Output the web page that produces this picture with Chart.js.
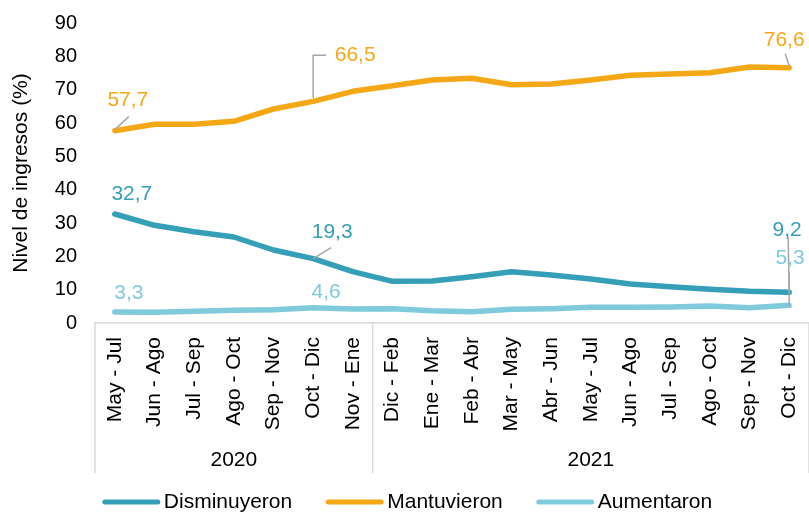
<!DOCTYPE html>
<html lang="es">
<head>
<meta charset="utf-8">
<title>Nivel de ingresos</title>
<script src="https://cdn.jsdelivr.net/npm/chart.js@4.4.1/dist/chart.umd.min.js"></script>
<style>
    html, body { margin: 0; padding: 0; background: #fff; overflow: hidden; }
    #wrap { width: 809px; height: 512px; position: relative; }
</style>
</head>
<body>
<div id="wrap"><canvas id="ingresosChart"></canvas></div>
<script>
// Categories (rolling three-month periods)
const periods = [
    'May - Jul', 'Jun - Ago', 'Jul - Sep', 'Ago - Oct', 'Sep - Nov', 'Oct - Dic', 'Nov - Ene',
    'Dic - Feb', 'Ene - Mar', 'Feb - Abr', 'Mar - May', 'Abr - Jun', 'May - Jul', 'Jun - Ago',
    'Jul - Sep', 'Ago - Oct', 'Sep - Nov', 'Oct - Dic'
];
const yearLabels = ['2020', '2021'];
const yearCounts = [7, 11];

// Series values (%)
const disminuyeron = [32.7, 29.3, 27.4, 25.8, 21.9, 19.3, 15.4, 12.5, 12.6, 13.9, 15.4, 14.4, 13.2, 11.7, 10.9, 10.1, 9.5, 9.2];
const mantuvieron = [57.7, 59.6, 59.6, 60.5, 64.2, 66.5, 69.5, 71.2, 72.9, 73.4, 71.5, 71.7, 72.9, 74.3, 74.7, 75.1, 76.8, 76.6];
const aumentaron = [3.3, 3.2, 3.5, 3.8, 4.0, 4.6, 4.2, 4.3, 3.7, 3.4, 4.1, 4.3, 4.7, 4.7, 4.8, 5.1, 4.6, 5.3];

// Points that carry a value label
const labeledPoints = [0, 5, 17];

// y axis ticks
const yMin = 0;
const yMax = 90;
const yStep = 10;

const FONT = '"Liberation Sans", Arial, sans-serif';
const LEADER = '#a6a6a6';
const SEP = '#d9d9d9';

// Label placement (pixel offsets from the point), keyed "dataset:index"
const labelPlacement = {
    '0:0':  { dx: 17, dy: -20 },
    '0:5':  { dx: 19, dy: -26, leader: [[0, 0], [18, -11]] },
    '0:17': { dx: -2, dy: -62, leader: [[-1, -55], [0, 0]] },
    '1:0':  { dx: 13, dy: -30, leader: [[0, -1], [14, -14]] },
    '1:5':  { dx: 42, dy: -46, leader: [[0, -3], [0, -46], [13, -46]] },
    '1:17': { dx: -5, dy: -27, leader: [[0, -2], [-4, -14]] },
    '2:0':  { dx: 14, dy: -19 },
    '2:5':  { dx: 13, dy: -15 },
    '2:17': { dx: 1, dy: -47, leader: [[0, -33], [0, 0]] }
};

function fmt(v) {
    return v.toFixed(1).replace('.', ',');
}

// Draws value labels, year groups and the legend
const decorations = {
    id: 'decorations',
    afterDatasetsDraw(chart) {
        const ctx = chart.ctx;
        const area = chart.chartArea;
        const xs = chart.scales.x;

        // value labels with leader lines
        chart.data.datasets.forEach((ds, di) => {
            const meta = chart.getDatasetMeta(di);
            labeledPoints.forEach(i => {
                const place = labelPlacement[di + ':' + i];
                if (!place) return;
                const pt = meta.data[i];
                ctx.save();
                if (place.leader) {
                    ctx.strokeStyle = LEADER;
                    ctx.lineWidth = 1.5;
                    ctx.beginPath();
                    place.leader.forEach((p, k) => {
                        if (k === 0) ctx.moveTo(pt.x + p[0], pt.y + p[1]);
                        else ctx.lineTo(pt.x + p[0], pt.y + p[1]);
                    });
                    ctx.stroke();
                }
                ctx.fillStyle = ds.borderColor;
                ctx.font = '21px ' + FONT;
                ctx.textAlign = 'center';
                ctx.textBaseline = 'middle';
                ctx.fillText(fmt(ds.data[i]), pt.x + place.dx, pt.y + place.dy);
                ctx.restore();
            });
        });

        // year groups under the category labels
        const bottom = area.bottom + 150;
        const step = xs.getPixelForValue(1) - xs.getPixelForValue(0);
        ctx.save();
        ctx.strokeStyle = SEP;
        ctx.lineWidth = 1.5;
        let start = 0;
        const edges = [xs.getPixelForValue(0) - step / 2];
        yearCounts.forEach(c => {
            start += c;
            edges.push(xs.getPixelForValue(start - 1) + step / 2);
        });
        edges.forEach(x => {
            ctx.beginPath();
            ctx.moveTo(x, area.bottom);
            ctx.lineTo(x, bottom);
            ctx.stroke();
        });
        ctx.fillStyle = '#000';
        ctx.font = '21px ' + FONT;
        ctx.textAlign = 'center';
        ctx.textBaseline = 'middle';
        yearLabels.forEach((y, k) => {
            ctx.fillText(y, (edges[k] + edges[k + 1]) / 2, area.bottom + 137);
        });

        // legend
        const lineW = 57, gapText = 4, gapItem = 34, ly = 502;
        ctx.font = '21px ' + FONT;
        const widths = chart.data.datasets.map(ds => lineW + gapText + ctx.measureText(ds.label).width);
        const total = widths.reduce((a, b) => a + b, 0) + gapItem * (widths.length - 1);
        let x = chart.width / 2 - total / 2 + 3;
        chart.data.datasets.forEach((ds, di) => {
            ctx.strokeStyle = ds.borderColor;
            ctx.lineWidth = 5;
            ctx.lineCap = 'round';
            ctx.beginPath();
            ctx.moveTo(x + 2, ly);
            ctx.lineTo(x + lineW - 2, ly);
            ctx.stroke();
            ctx.fillStyle = '#000';
            ctx.textAlign = 'left';
            ctx.fillText(ds.label, x + lineW + gapText, ly);
            x += widths[di] + gapItem;
        });
        ctx.restore();
    }
};

const ctxEl = document.getElementById('ingresosChart');
new Chart(ctxEl, {
    type: 'line',
    data: {
        labels: periods,
        datasets: [
            { label: 'Disminuyeron', data: disminuyeron, borderColor: '#349fb7' },
            { label: 'Mantuvieron', data: mantuvieron, borderColor: '#f5a816' },
            { label: 'Aumentaron', data: aumentaron, borderColor: '#7fcadb' }
        ].map(d => Object.assign(d, {
            borderWidth: 5.5,
            pointRadius: 0,
            tension: 0,
            fill: false,
            borderCapStyle: 'round',
            borderJoinStyle: 'round'
        }))
    },
    options: {
        responsive: true,
        maintainAspectRatio: false,
        animation: false,
        layout: { padding: { top: 23, right: -3, bottom: 39, left: 0 } },
        plugins: {
            legend: { display: false },
            tooltip: { enabled: false }
        },
        scales: {
            x: {
                offset: true,
                grid: { display: false, drawTicks: false },
                border: { display: true, color: SEP, width: 1.5 },
                ticks: {
                    autoSkip: false,
                    maxRotation: 90,
                    minRotation: 90,
                    padding: 14,
                    color: '#000',
                    font: { family: FONT, size: 21 }
                },
                afterFit(scale) {
                    scale.height = 150;
                    scale.paddingLeft = 0;
                    scale.paddingRight = 0;
                }
            },
            y: {
                min: yMin,
                max: yMax,
                grid: { display: false, drawTicks: false },
                border: { display: false },
                ticks: {
                    stepSize: yStep,
                    padding: 18,
                    color: '#000',
                    font: { family: FONT, size: 20 }
                },
                title: {
                    display: true,
                    text: 'Nivel de ingresos (%)',
                    color: '#000',
                    padding: { top: 9, bottom: 0 },
                    font: { family: FONT, size: 21 }
                },
                afterFit(scale) {
                    scale.width = 95;
                    scale.paddingTop = 0;
                    scale.paddingBottom = 0;
                }
            }
        }
    },
    plugins: [decorations]
});
</script>
</body>
</html>
